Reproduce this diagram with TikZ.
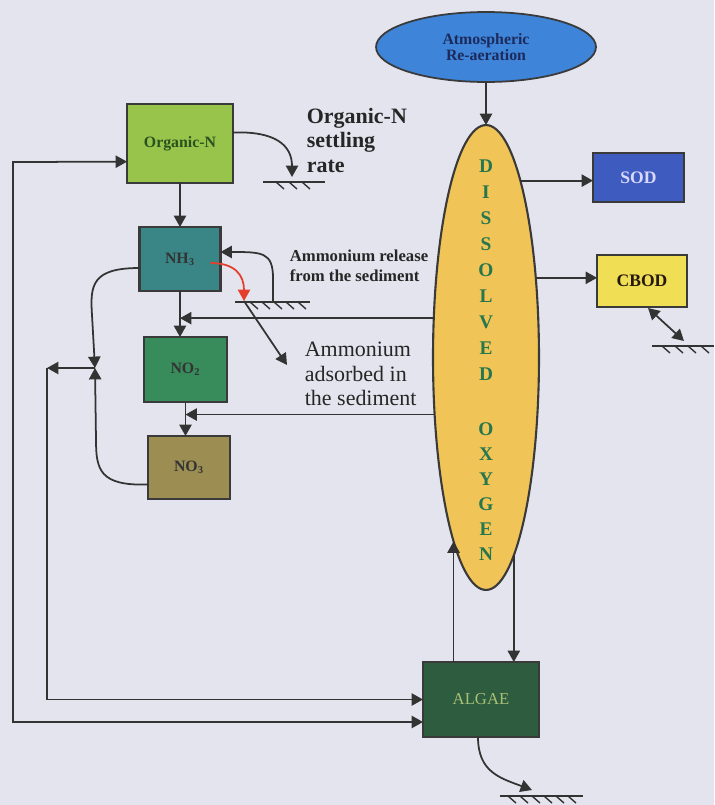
\documentclass[tikz,border=0pt]{standalone}
\usepackage{fontspec}
\setmainfont{Liberation Serif}
\usetikzlibrary{arrows.meta, shapes.geometric, calc}

\definecolor{paper}{RGB}{228,228,238}
\definecolor{orgfill}{RGB}{152,196,76}
\definecolor{orgtext}{RGB}{42,82,30}
\definecolor{nhfill}{RGB}{58,134,134}
\definecolor{notwofill}{RGB}{56,140,92}
\definecolor{nothreefill}{RGB}{156,142,82}
\definecolor{sodfill}{RGB}{62,92,192}
\definecolor{cbodfill}{RGB}{240,222,84}
\definecolor{algaefill}{RGB}{46,92,62}
\definecolor{algaetext}{RGB}{168,192,118}
\definecolor{dofill}{RGB}{240,196,86}
\definecolor{dotext}{RGB}{38,118,78}
\definecolor{atmfill}{RGB}{62,132,216}
\definecolor{atmtext}{RGB}{28,42,92}
\definecolor{boxline}{RGB}{58,58,58}
\definecolor{redflow}{RGB}{228,62,44}

\begin{document}
\begin{tikzpicture}[
  x=0.02cm, y=-0.02cm,
  >={Triangle[length=6.5pt,width=7pt]}, line width=1pt,
  poolbox/.style={draw=boxline, line width=1.3pt, inner sep=0pt, outer sep=0pt,
                  font=\fontsize{9}{10}\selectfont\bfseries},
  doletter/.style={inner sep=0pt, text=dotext,
                   font=\fontsize{11}{11}\selectfont\bfseries},
  flow/.style={->, draw=black!80},
  bedline/.style={line width=0.8pt, draw=black!80},
  notelabel/.style={inner sep=0pt, align=left, text=black!85}
]

\fill[paper] (0,0) rectangle (714,805);

% pools
\node[ellipse, draw=boxline, fill=atmfill, line width=1pt, inner sep=0pt, outer sep=0pt,
      minimum width=4.4cm, minimum height=1.4cm, align=center, text=atmtext,
      font=\fontsize{9}{9.5}\selectfont\bfseries] (atmos) at (486,47) {Atmospheric\\Re-aeration};
\node[ellipse, draw=boxline, fill=dofill, line width=1.2pt, inner sep=0pt, outer sep=0pt,
      minimum width=2.12cm, minimum height=9.3cm] (do) at (486,357.5) {};
\foreach \ch [count=\i] in {D,I,S,S,O,L,V,E,D}
  \node[doletter] (dis\i) at (486,140+26*\i) {\ch};
\foreach \ch [count=\i] in {O,X,Y,G,E,N}
  \node[doletter] (oxy\i) at (486,404+25*\i) {\ch};

\node[poolbox, fill=orgfill, text=orgtext, minimum width=2.12cm, minimum height=1.58cm]
  (orgn) at (180,143.5) {Organic-N};
\node[poolbox, fill=nhfill, text=black!80, minimum width=1.62cm, minimum height=1.28cm]
  (nh3) at (180,259) {NH\textsubscript{3}};
\node[poolbox, fill=notwofill, text=black!80, minimum width=1.66cm, minimum height=1.3cm]
  (no2) at (185.5,369.5) {NO\textsubscript{2}};
\node[poolbox, fill=nothreefill, text=black!80, minimum width=1.64cm, minimum height=1.26cm]
  (no3) at (189,467.5) {NO\textsubscript{3}};
\node[poolbox, fill=sodfill, text=white!85!blue, minimum width=1.82cm, minimum height=0.98cm,
      font=\fontsize{10}{11}\selectfont\bfseries] (sod) at (638.5,177.5) {SOD};
\node[poolbox, fill=cbodfill, text=black!80!brown, minimum width=1.8cm, minimum height=1.04cm,
      font=\fontsize{10}{11}\selectfont\bfseries] (cbod) at (642,281) {CBOD};
\node[poolbox, fill=algaefill, text=algaetext, minimum width=2.32cm, minimum height=1.5cm,
      font=\fontsize{9.5}{10}\selectfont] (algae) at (481,699.5) {ALGAE};

% labels
\node[notelabel, anchor=north west, font=\fontsize{12.5}{14}\selectfont\bfseries]
  (orgsettle) at (306,107) {Organic-N\\settling\\rate};
\node[notelabel, anchor=north west, font=\fontsize{9.5}{11.4}\selectfont\bfseries]
  (release) at (289,249) {Ammonium release\\from the sediment};
\node[notelabel, anchor=north west, font=\fontsize{12.5}{14}\selectfont]
  (adsorbed) at (304,341) {Ammonium\\adsorbed in\\the sediment};

% sediment beds
\coordinate (orgbed) at (292,177);
\coordinate (nhbed) at (244,301);
\coordinate (relbase) at (273,302);
\coordinate (adsorb) at (287,365);
\coordinate (cbodbed) at (684,341);
\coordinate (algbed) at (532,790);
\draw[bedline] (263,182) -- (325,182);
\foreach \h in {276,289,302} \draw[bedline] (\h,182) -- ++(8,7);
\draw[bedline] (235,302) -- (310,302);
\foreach \h in {250,262,274,286,298} \draw[bedline] (\h,302) -- ++(8,7);
\draw[bedline] (652,346) -- (714,346);
\foreach \h in {662,675,688,701} \draw[bedline] (\h,346) -- ++(8,7);
\draw[bedline] (500,796) -- (583,796);
\foreach \h in {508,520,532,544,556,568} \draw[bedline] (\h,796) -- ++(8,7);

% oxygen fluxes
\draw[flow] (atmos) -- (do);
\draw[flow] (do.79) -- (do.79 -| sod.west);
\draw[flow] (do.58) -- (do.58 -| cbod.west);
\draw[<->, draw=black!80] ($(cbod.south)+(6,1)$) -- (cbodbed);
\draw[flow] (do.143) -- (do.143 -| nh3.south);
\draw[flow] (do.228) -- (do.228 -| no2.south);
\draw[flow] (do.260.7 |- algae.north) -- (do.260.7);
\draw[flow] (do.278) -- (do.278 |- algae.north);

% nitrogen cycle
\draw[flow] (orgn) -- (nh3);
\draw[flow] (nh3.south) -- (nh3.south |- no2.north);
\draw[flow] (no2.south) -- (no2.south |- no3.north);
\draw[flow] ($(orgn.east)+(0,-11)$) .. controls (275,131) and (292,145) .. (orgbed);
\draw[flow, draw=redflow] ($(nh3.east)+(-10,4)$) .. controls (235,263) and (244,275) .. (nhbed);
\draw[flow] (relbase) -- (273,278) .. controls (273,252) and (262,252) .. ($(nh3.east)+(0,-7)$);
\draw[flow] (nhbed) -- (adsorb);

% uptake by algae
\coordinate (jn) at (95,368);
\coordinate (lc) at (47,368);
\coordinate (outer) at (13,162);
\draw[flow] ($(nh3.west)+(0,9)$) .. controls (92,268) and (90,285) .. (92,315) -- (jn);
\draw[flow] ($(no3.west)+(0,17)$) .. controls (100,486) and (96,470) .. (96,440) -- (jn);
\draw[flow] (jn) -- (lc);
\draw[flow] (lc) |- (algae.west);
\draw[<->, draw=black!80] ($(algae.south west)!0.2!(algae.north west)$) -| (outer)
  -- ($(orgn.south west)!0.27!(orgn.north west)$);
\draw[flow] ($(algae.south)+(-3,0)$) .. controls (478,772) and (500,778) .. (algbed);

\end{tikzpicture}
\end{document}
